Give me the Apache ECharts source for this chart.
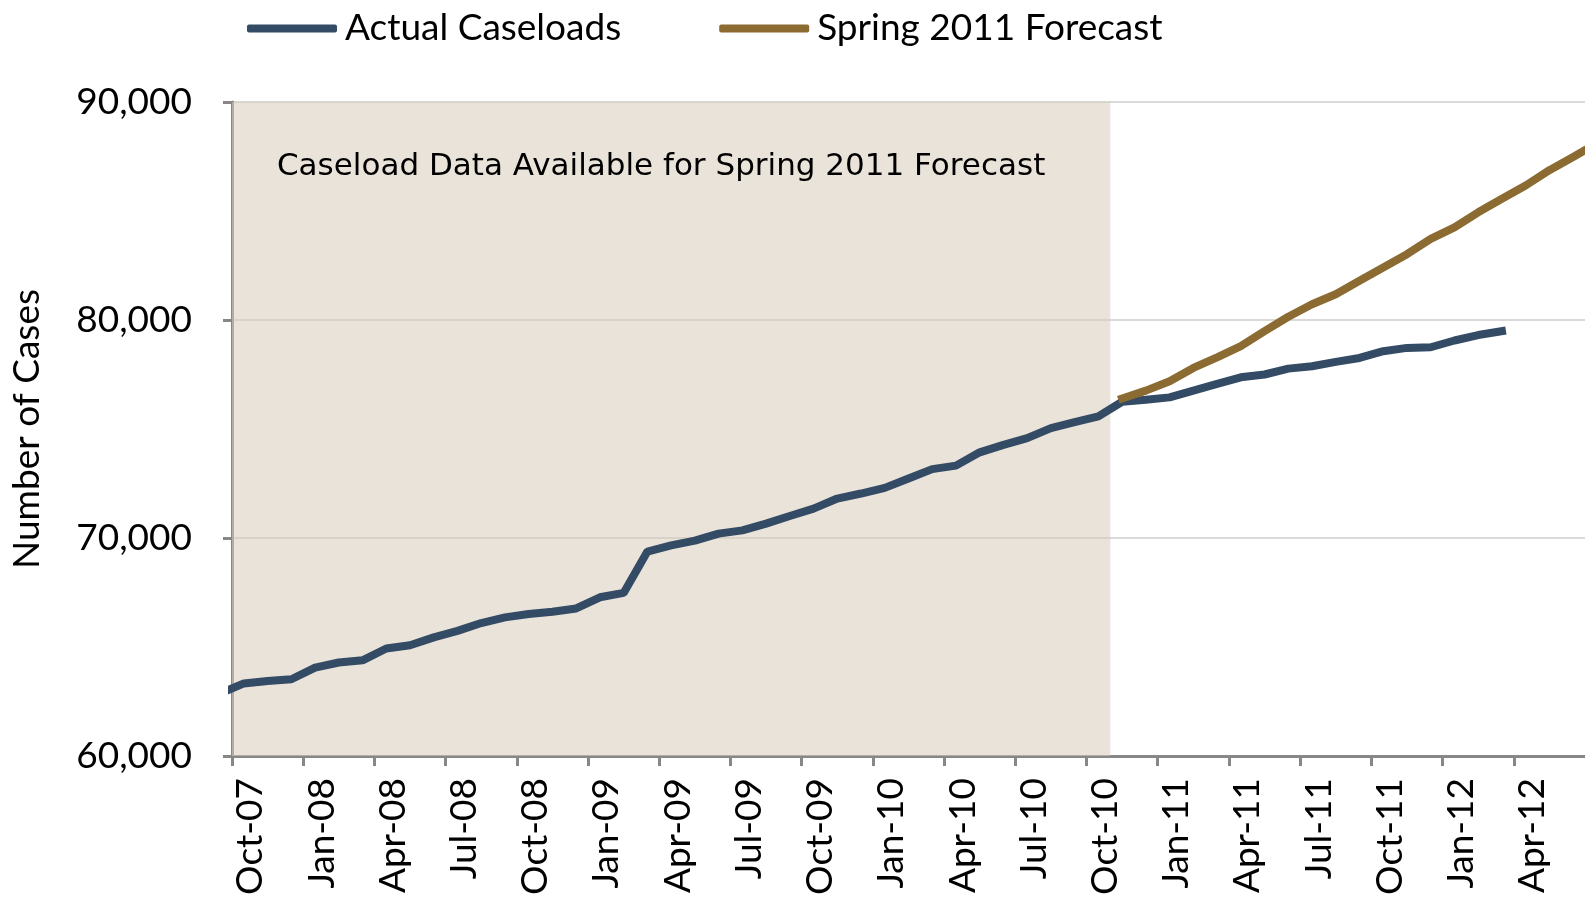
<!DOCTYPE html>
<html lang="en">
<head>
  <meta charset="UTF-8">
  <title>Caseloads</title>
  <script src="https://cdn.jsdelivr.net/npm/echarts@6/dist/echarts.min.js"></script>
  <style>
    html, body { margin: 0; padding: 0; background: #fff; }
  </style>
</head>
<body>
<div id="main" style="width: 1585px; height: 899px;"></div>
<script>
// months, starting one month before the first tick so the line runs into the axis
var months = ['Sep-07',
  'Oct-07','Nov-07','Dec-07','Jan-08','Feb-08','Mar-08','Apr-08','May-08','Jun-08','Jul-08','Aug-08','Sep-08',
  'Oct-08','Nov-08','Dec-08','Jan-09','Feb-09','Mar-09','Apr-09','May-09','Jun-09','Jul-09','Aug-09','Sep-09',
  'Oct-09','Nov-09','Dec-09','Jan-10','Feb-10','Mar-10','Apr-10','May-10','Jun-10','Jul-10','Aug-10','Sep-10',
  'Oct-10','Nov-10','Dec-10','Jan-11','Feb-11','Mar-11','Apr-11','May-11','Jun-11','Jul-11','Aug-11','Sep-11',
  'Oct-11','Nov-11','Dec-11','Jan-12','Feb-12','Mar-12','Apr-12','May-12','Jun-12','Jul-12']

// Sep-07 .. Mar-12
var actualCaseloads = [62870,
  63330, 63440, 63520, 64050, 64290, 64390, 64930, 65080, 65440, 65740, 66100, 66360,
  66510, 66620, 66770, 67280, 67480, 69380, 69660, 69880, 70200, 70350, 70660, 71010,
  71350, 71810, 72040, 72300, 72730, 73160, 73320, 73930, 74270, 74580, 75040, 75310,
  75580, 76250, 76340, 76450, 76760, 77070, 77370, 77500, 77770, 77880, 78080, 78260,
  78570, 78720, 78750, 79060, 79310, 79490]

// Nov-10 .. Jul-12
var forecastStart = 'Nov-10'
var springForecast = [76400, 76760, 77190, 77800, 78290, 78800, 79490, 80150, 80720, 81180,
  81800, 82410, 83020, 83720, 84250, 84940, 85560, 86170, 86870, 87480, 88100]

// tick labels every 3 months, from Oct-07
var tickLabels = ['Oct-07','Jan-08','Apr-08','Jul-08','Oct-08','Jan-09','Apr-09','Jul-09','Oct-09','Jan-10',
  'Apr-10','Jul-10','Oct-10','Jan-11','Apr-11','Jul-11','Oct-11','Jan-12','Apr-12','Jul-12']

var shadeFrom = 'Oct-07', shadeTo = 'Nov-10'
var yTicks = [60000, 70000, 80000, 90000]

// month position measured from Oct-07, points sit mid-month
function pos(m) { return months.indexOf(m) - 1 }
function series(start, vals) {
  var i0 = months.indexOf(start)
  return vals.map(function (v, k) { return [i0 + k - 1 + 0.5, v] })
}

var font = 'Lato, "Open Sans", sans-serif'
var chart = echarts.init(document.getElementById('main'))
chart.setOption({
  animation: false,
  textStyle: { fontFamily: font },
  legend: {
    top: 5, left: 242,
    itemWidth: 90, itemHeight: 8, itemGap: 98,
    icon: 'roundRect',
    textStyle: { fontSize: 37, color: '#000', fontFamily: font, padding: [0, 0, 0, 3] },
    data: ['Actual Caseloads', 'Spring 2011 Forecast']
  },
  grid: { left: 232, right: 0, top: 102, bottom: 143 },
  xAxis: {
    type: 'value',
    min: 0, max: pos('Jul-12'), interval: 3,
    axisLine: { lineStyle: { color: '#878787', width: 3 } },
    axisTick: { length: 10, lineStyle: { color: '#878787', width: 3 } },
    splitLine: { show: false },
    axisLabel: {
      rotate: 90, margin: 22, fontSize: 37, color: '#000',
      verticalAlign: 'top', showMaxLabel: false,
      formatter: function (v) { return tickLabels[Math.round(v / 3)] }
    }
  },
  yAxis: {
    type: 'value',
    min: yTicks[0], max: yTicks[yTicks.length - 1], interval: yTicks[1] - yTicks[0],
    name: 'Number of Cases', nameLocation: 'middle', nameGap: 186, nameRotate: 90,
    nameTextStyle: { fontSize: 37, color: '#000' },
    axisLine: { show: true, lineStyle: { color: '#878787', width: 3 } },
    axisTick: { show: true, length: 9, lineStyle: { color: '#878787', width: 3 } },
    splitLine: { lineStyle: { color: '#d9d9d9', width: 2 } },
    axisLabel: {
      margin: 40, fontSize: 37, color: '#000',
      formatter: function (v) { return v.toLocaleString('en-US') }
    }
  },
  series: [
    {
      name: 'Actual Caseloads', type: 'line',
      data: series(months[0], actualCaseloads),
      showSymbol: false, symbol: 'none',
      lineStyle: { color: '#344b65', width: 8, cap: 'square' },
      itemStyle: { color: '#344b65' },
      markArea: {
        silent: true,
        itemStyle: { color: 'rgba(215,204,186,0.55)' },
        label: {
          show: true, position: 'insideTop', distance: 49, offset: [-10, 0],
          fontSize: 31, color: '#000', fontFamily: '"DejaVu Sans", sans-serif',
          formatter: 'Caseload Data Available for Spring 2011 Forecast'
        },
        data: [[{ xAxis: pos(shadeFrom) }, { xAxis: pos(shadeTo) }]]
      }
    },
    {
      name: 'Spring 2011 Forecast', type: 'line',
      data: series(forecastStart, springForecast),
      showSymbol: false, symbol: 'none',
      lineStyle: { color: '#8b6b32', width: 8, cap: 'square' },
      itemStyle: { color: '#8b6b32' }
    }
  ]
})
</script>
</body>
</html>
